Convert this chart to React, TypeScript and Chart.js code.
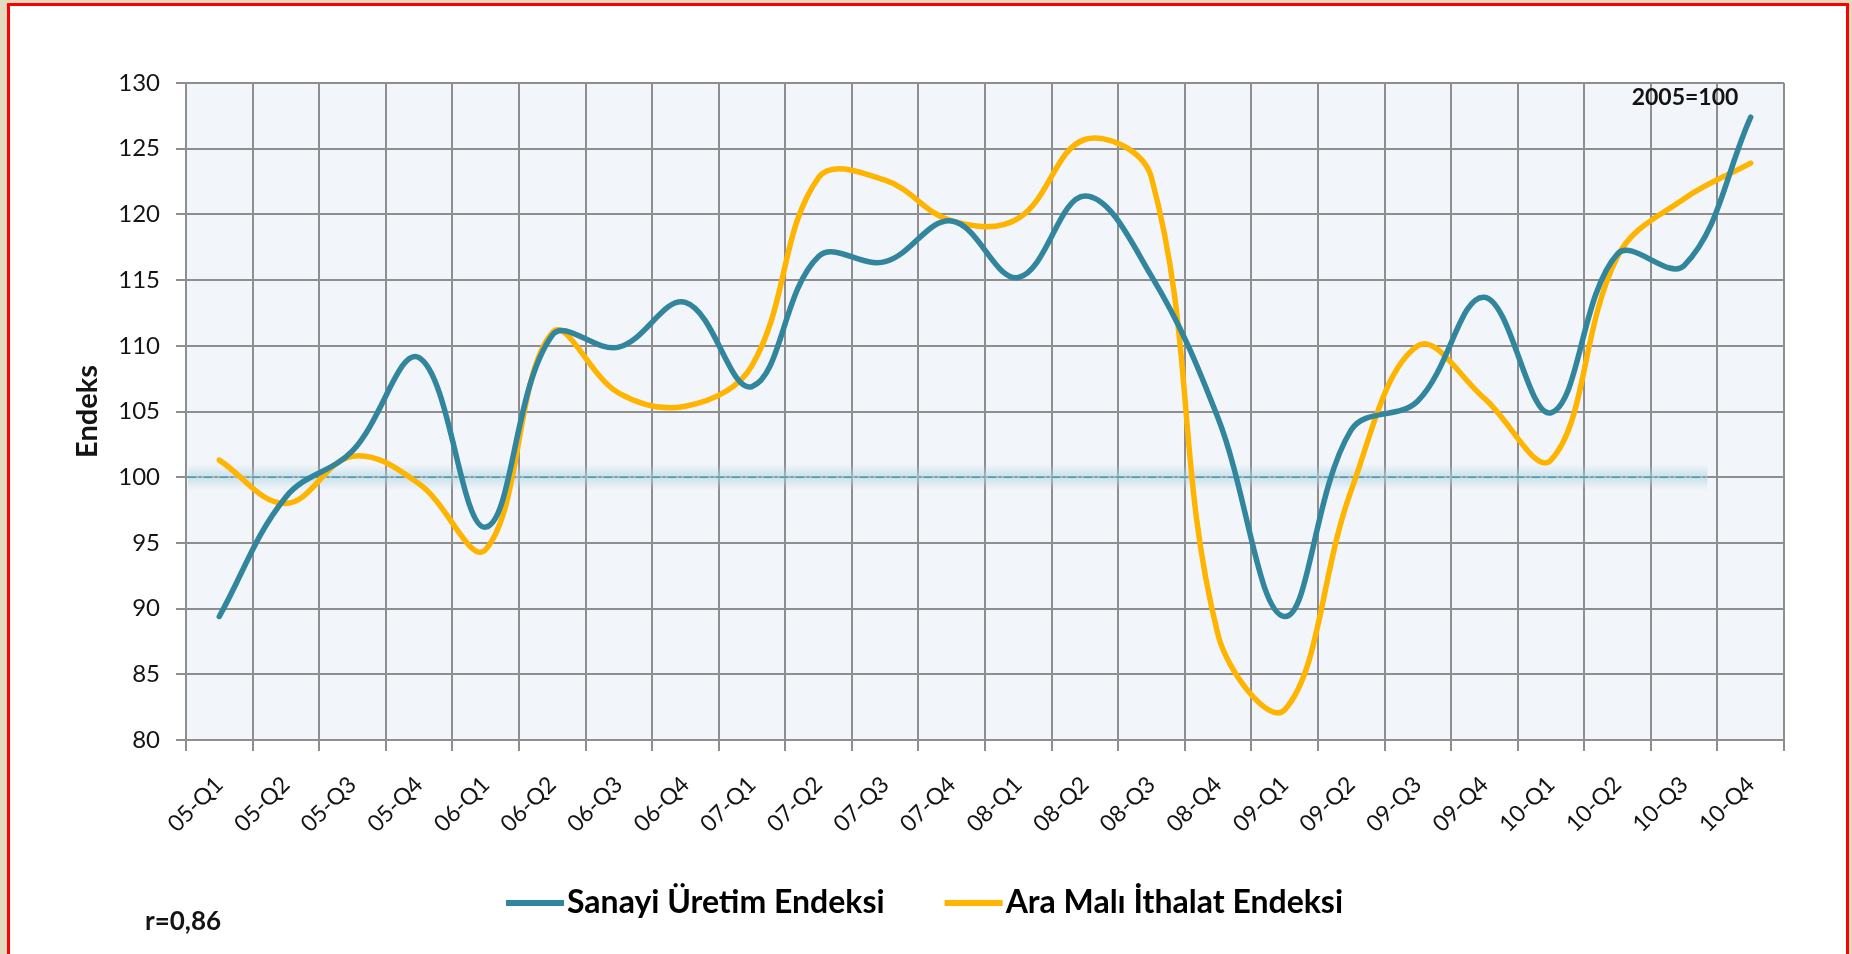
import React, { useEffect, useRef } from 'react';
import { Chart, registerables } from 'chart.js';

Chart.register(...registerables);

// ---------- data ----------
const categories = [
  '05-Q1', '05-Q2', '05-Q3', '05-Q4',
  '06-Q1', '06-Q2', '06-Q3', '06-Q4',
  '07-Q1', '07-Q2', '07-Q3', '07-Q4',
  '08-Q1', '08-Q2', '08-Q3', '08-Q4',
  '09-Q1', '09-Q2', '09-Q3', '09-Q4',
  '10-Q1', '10-Q2', '10-Q3', '10-Q4',
];

const sanayiUretim = [
  89.4, 98.5, 102.0, 109.1,
  96.2, 110.8, 109.9, 113.3,
  106.9, 116.8, 116.4, 119.5,
  115.2, 121.4, 115.3, 104.5,
  89.4, 103.6, 105.8, 113.7,
  104.9, 117.0, 116.1, 127.4,
];

const araMaliIthalat = [
  101.3, 98.0, 101.6, 99.5,
  94.5, 111.0, 106.4, 105.4,
  108.5, 122.8, 122.6, 119.5,
  119.7, 125.7, 122.8, 88.0,
  82.3, 99.0, 110.0, 106.0,
  101.3, 116.8, 121.2, 123.9,
];

const seriesNames = ['Sanayi Üretim Endeksi', 'Ara Malı İthalat Endeksi'];
const yMin = 80;
const yMax = 130;
const yStep = 5;
const baseValue = 100;
const baseLineEndIndex = 22.35;
const yTitle = 'Endeks';
const baseNote = '2005=100';
const corrNote = 'r=0,86';

// ---------- styles ----------
const FONT = 'Lato, "Open Sans", "DejaVu Sans", sans-serif';
const C_BLUE = '#31859C';
const C_GOLD = '#FFB400';
const C_GRID = '#8E8E8E';
const C_PLOT = '#F2F5FA';
const C_TEXT = '#141414';
const C_REF = '#4E9DB2';

const decorPlugin = {
  id: 'decor',
  beforeDraw(chart: any) {
    const { ctx, chartArea: a } = chart;
    ctx.save();
    ctx.fillStyle = C_PLOT;
    ctx.fillRect(a.left, a.top, a.right - a.left, a.bottom - a.top);
    ctx.restore();
  },
  beforeDatasetsDraw(chart: any) {
    const { ctx, chartArea: a, scales } = chart;
    const yy = scales.y.getPixelForValue(baseValue);
    const x0 = a.left + 2;
    const x1 = scales.x.getPixelForValue(baseLineEndIndex);
    ctx.save();
    const g = ctx.createLinearGradient(0, yy - 13, 0, yy + 13);
    g.addColorStop(0, 'rgba(175,212,224,0)');
    g.addColorStop(0.5, 'rgba(175,212,224,0.6)');
    g.addColorStop(1, 'rgba(175,212,224,0)');
    ctx.fillStyle = g;
    ctx.fillRect(x0, yy - 13, x1 - x0, 26);
    ctx.strokeStyle = C_REF;
    ctx.lineWidth = 1.6;
    ctx.setLineDash([8, 3, 2, 3]);
    ctx.beginPath();
    ctx.moveTo(x0, yy);
    ctx.lineTo(x1, yy);
    ctx.stroke();
    ctx.restore();
  },
  afterDraw(chart: any) {
    const { ctx, chartArea: a } = chart;
    ctx.save();
    ctx.fillStyle = C_TEXT;
    // y axis title
    ctx.save();
    ctx.translate(88, (a.top + a.bottom) / 2);
    ctx.rotate(-Math.PI / 2);
    ctx.font = `bold 29px ${FONT}`;
    ctx.textAlign = 'center';
    ctx.textBaseline = 'middle';
    ctx.fillText(yTitle, 0, 0);
    ctx.restore();
    // base note
    ctx.font = `bold 23px ${FONT}`;
    ctx.textAlign = 'center';
    ctx.textBaseline = 'middle';
    ctx.fillText(baseNote, a.right - 99, a.top + 15);
    // correlation
    ctx.textAlign = 'left';
    ctx.font = `bold 26px ${FONT}`;
    ctx.fillText(corrNote, 145, 922);
    // legend
    const ly = 903;
    ctx.font = `bold 32px ${FONT}`;
    let x = 506;
    const colors = [C_BLUE, C_GOLD];
    seriesNames.forEach((name, i) => {
      ctx.strokeStyle = colors[i];
      ctx.lineWidth = 6;
      ctx.lineCap = 'butt';
      ctx.beginPath();
      ctx.moveTo(x, ly);
      ctx.lineTo(x + 58, ly);
      ctx.stroke();
      x += 61;
      ctx.fillStyle = '#000';
      ctx.textAlign = 'left';
      ctx.fillText(name, x, ly);
      x += ctx.measureText(name).width + 60;
    });
    ctx.restore();
  },
};

export default function App() {
  const ref = useRef<HTMLCanvasElement>(null);

  useEffect(() => {
    if (!ref.current) return;
    const chart = new Chart(ref.current, {
      type: 'line',
      data: {
        labels: categories,
        datasets: [
          {
            label: seriesNames[0],
            data: sanayiUretim,
            borderColor: C_BLUE,
            backgroundColor: C_BLUE,
            borderWidth: 5.5,
            tension: 0.38,
            pointRadius: 0,
            borderCapStyle: 'round',
            fill: false,
          },
          {
            label: seriesNames[1],
            data: araMaliIthalat,
            borderColor: C_GOLD,
            backgroundColor: C_GOLD,
            borderWidth: 5.5,
            tension: 0.38,
            pointRadius: 0,
            borderCapStyle: 'round',
            fill: false,
          },
        ],
      },
      options: {
        responsive: false,
        animation: false,
        devicePixelRatio: 1,
        layout: { padding: { left: 0, top: 83, right: 68, bottom: 0 } },
        plugins: {
          legend: { display: false },
          tooltip: { enabled: false },
          title: { display: false },
        },
        scales: {
          x: {
            offset: true,
            grid: {
              offset: true,
              color: C_GRID,
              lineWidth: 2,
              tickLength: 11,
              drawTicks: true,
            },
            border: { color: C_GRID, width: 2 },
            ticks: {
              autoSkip: false,
              minRotation: 45,
              maxRotation: 45,
              padding: 20,
              color: C_TEXT,
              font: { family: FONT, size: 23 },
            },
            afterFit(scale: any) {
              scale.height = 214;
            },
          },
          y: {
            min: yMin,
            max: yMax,
            grid: {
              color: C_GRID,
              lineWidth: 2,
              tickLength: 10,
            },
            border: { color: C_GRID, width: 2 },
            ticks: {
              stepSize: yStep,
              padding: 16,
              color: C_TEXT,
              font: { family: FONT, size: 24 },
            },
            afterFit(scale: any) {
              scale.width = 186;
            },
          },
        },
      },
      plugins: [decorPlugin],
    } as any);
    return () => chart.destroy();
  }, []);

  return (
    <div
      style={{
        position: 'fixed',
        left: 0,
        top: 0,
        width: 1852,
        height: 954,
        background: '#E5DAC0',
        overflow: 'hidden',
      }}
    >
      <div
        style={{
          position: 'absolute',
          left: 7,
          top: 3,
          width: 1836,
          height: 1000,
          border: '3px solid #FF0000',
          background: '#FFFFFF',
        }}
      />
      <canvas
        ref={ref}
        width={1852}
        height={954}
        style={{ position: 'absolute', left: 0, top: 0, width: 1852, height: 954 }}
      />
    </div>
  );
}
